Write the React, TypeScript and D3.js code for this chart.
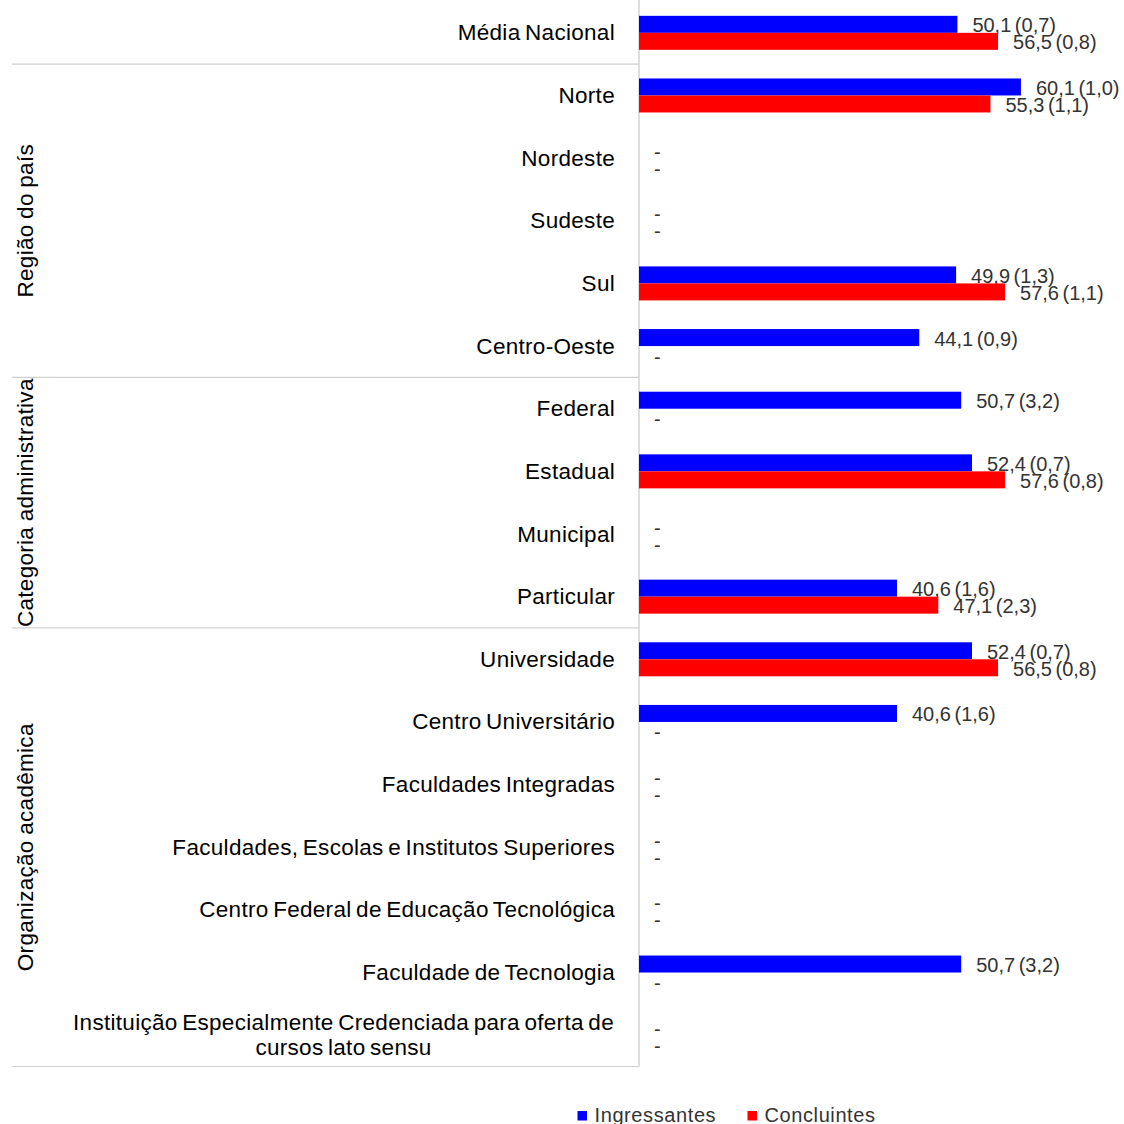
import React from "react";
import * as d3 from "d3";

const categories = [
  "Média Nacional",
  "Norte",
  "Nordeste",
  "Sudeste",
  "Sul",
  "Centro-Oeste",
  "Federal",
  "Estadual",
  "Municipal",
  "Particular",
  "Universidade",
  "Centro Universitário",
  "Faculdades Integradas",
  "Faculdades, Escolas e Institutos Superiores",
  "Centro Federal de Educação Tecnológica",
  "Faculdade de Tecnologia",
  "Instituição Especialmente Credenciada para oferta de|cursos lato sensu",
];

const ingressantes: (number | null)[] = [50.1, 60.1, null, null, 49.9, 44.1, 50.7, 52.4, null, 40.6, 52.4, 40.6, null, null, null, 50.7, null];
const ingressantesSE: (number | null)[] = [0.7, 1.0, null, null, 1.3, 0.9, 3.2, 0.7, null, 1.6, 0.7, 1.6, null, null, null, 3.2, null];
const concluintes: (number | null)[] = [56.5, 55.3, null, null, 57.6, null, null, 57.6, null, 47.1, 56.5, null, null, null, null, null, null];
const concluintesSE: (number | null)[] = [0.8, 1.1, null, null, 1.1, null, null, 0.8, null, 2.3, 0.8, null, null, null, null, null, null];

const groups = [
  { name: "Região do país", from: 1, to: 5 },
  { name: "Categoria administrativa", from: 6, to: 9 },
  { name: "Organização acadêmica", from: 10, to: 16 },
];

const seriesNames = ["Ingressantes", "Concluintes"];
const seriesColors = ["#0000ff", "#ff0000"];

const fmt = (v: number) => v.toFixed(1).replace(".", ",");

export default function App() {
  const W = 1124, H = 1124;
  const axisX = 639;
  const x = d3.scaleLinear().domain([0, 70]).range([axisX, axisX + 444.85]);
  const y = d3.scaleBand<string>().domain(categories).range([1.5, 1066.5]).padding(0);
  const barH = 17;
  const font = "'Liberation Sans', Arial, sans-serif";
  const series = [
    { vals: ingressantes, se: ingressantesSE, color: seriesColors[0], off: -barH },
    { vals: concluintes, se: concluintesSE, color: seriesColors[1], off: 0 },
  ];
  const sepIdx = [1, 6, 10];

  return (
    <svg width={W} height={H} style={{ position: "absolute", left: 0, top: 0, background: "#fff" }} fontFamily={font}>
      {/* separators */}
      {sepIdx.map((i) => (
        <line key={i} x1={12} x2={axisX} y1={y(categories[i])!} y2={y(categories[i])!} stroke="#d0d0d0" strokeWidth={1.2} />
      ))}
      <line x1={12} x2={axisX} y1={1066.5} y2={1066.5} stroke="#d0d0d0" strokeWidth={1.2} />
      <line x1={axisX} x2={axisX} y1={0} y2={1066.5} stroke="#c8c8c8" strokeWidth={1.2} />

      {/* category labels */}
      {categories.map((c) => {
        const cy = y(c)! + y.bandwidth() / 2;
        const lines = c.split("|");
        if (lines.length === 1) {
          return (
            <text key={c} x={615} y={cy} textAnchor="end" dominantBaseline="central" fontSize={22.5} fill="#000" wordSpacing={-2} letterSpacing={0.3}>
              {c}
            </text>
          );
        }
        return (
          <g key={c}>
            {lines.map((l, k) => (
              <text key={k} x={343.5} y={cy + (k === 0 ? -13 : 12)} textAnchor="middle" dominantBaseline="central" fontSize={22.5} fill="#000" wordSpacing={-2} letterSpacing={0.3}>
                {l}
              </text>
            ))}
          </g>
        );
      })}

      {/* group labels */}
      {groups.map((g) => {
        const y0 = y(categories[g.from])!;
        const y1 = y(categories[g.to])! + y.bandwidth();
        const cy = (y0 + y1) / 2;
        return (
          <text key={g.name} transform={`translate(25,${cy}) rotate(-90)`} textAnchor="middle" dominantBaseline="central" fontSize={22.5} fill="#000" wordSpacing={-1} letterSpacing={0.3}>
            {g.name}
          </text>
        );
      })}

      {/* bars and labels */}
      {series.map((s, si) =>
        categories.map((c, i) => {
          const cy = y(c)! + y.bandwidth() / 2;
          const v = s.vals[i];
          const by = cy + s.off;
          if (v == null) {
            return (
              <text key={`${si}-${i}`} x={x(0) + 15} y={by + barH / 2 + 2} dominantBaseline="central" fontSize={20} fill="#333">
                -
              </text>
            );
          }
          return (
            <g key={`${si}-${i}`}>
              <rect x={x(0)} y={by} width={x(v) - x(0)} height={barH} fill={s.color} />
              <text x={x(v) + 15} y={by + barH / 2 + 1} dominantBaseline="central" fontSize={20} fill="#333" wordSpacing={-2}>
                {`${fmt(v)} (${fmt(s.se[i]!)})`}
              </text>
            </g>
          );
        })
      )}

      {/* legend */}
      {seriesNames.map((n, i) => {
        const lx = i === 0 ? 577.5 : 747.5;
        return (
          <g key={n}>
            <rect x={lx} y={1111} width={9.5} height={9.5} fill={seriesColors[i]} />
            <text x={lx + 17} y={1122} fontSize={20} fill="#333" letterSpacing={0.6}>
              {n}
            </text>
          </g>
        );
      })}
    </svg>
  );
}
